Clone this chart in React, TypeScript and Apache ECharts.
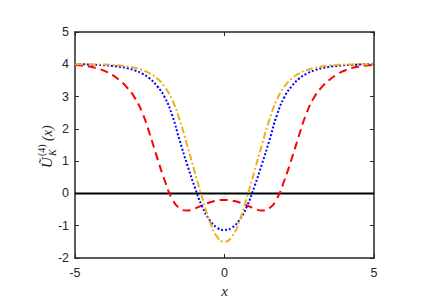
import React, { useEffect, useRef } from "react";
import * as echarts from "echarts";

const xs = [
  -5, -4.75, -4.5, -4.25, -4, -3.75, -3.5, -3.25, -3, -2.75, -2.5, -2.25, -2, -1.75, -1.5, -1.25, -1, -0.75, -0.5, -0.25,
  0, 0.25, 0.5, 0.75, 1, 1.25, 1.5, 1.75, 2, 2.25, 2.5, 2.75, 3, 3.25, 3.5, 3.75, 4, 4.25, 4.5, 4.75, 5,
];

const redValues = [
  3.98, 3.96, 3.93, 3.87, 3.79, 3.67, 3.5, 3.27, 2.96, 2.5, 1.84, 1.1, 0.4, -0.17, -0.46, -0.53, -0.47, -0.37, -0.28, -0.22,
  -0.2, -0.22, -0.28, -0.37, -0.47, -0.53, -0.46, -0.17, 0.4, 1.08, 1.82, 2.5, 2.98, 3.29, 3.51, 3.68, 3.8, 3.88, 3.93, 3.96, 3.98,
];

const blueValues = [
  4.0, 4.0, 3.99, 3.98, 3.97, 3.95, 3.92, 3.88, 3.81, 3.71, 3.56, 3.32, 2.98, 2.42, 1.64, 0.9, 0.21, -0.4, -0.82, -1.06,
  -1.13, -1.06, -0.82, -0.4, 0.21, 0.9, 1.64, 2.42, 2.98, 3.32, 3.56, 3.71, 3.81, 3.88, 3.92, 3.95, 3.97, 3.98, 3.99, 4.0, 4.0,
];

const orangeValues = [
  4.0, 4.0, 4.0, 3.99, 3.99, 3.98, 3.96, 3.93, 3.89, 3.82, 3.72, 3.56, 3.3, 2.9, 2.28, 1.5, 0.68, -0.12, -0.85, -1.34,
  -1.5, -1.34, -0.85, -0.12, 0.68, 1.5, 2.28, 2.9, 3.3, 3.56, 3.72, 3.82, 3.89, 3.93, 3.96, 3.98, 3.99, 3.99, 4.0, 4.0, 4.0,
];

const zeroLineX = [-5, 5];
const zeroLineY = [0, 0];

const xTicks = { min: -5, max: 5, interval: 5 };
const yTicks = { min: -2, max: 5, interval: 1 };

const AXIS_COLOR = "#262626";

function pairs(x: number[], y: number[]) {
  return x.map((v, i) => [v, y[i]]);
}

export default function App() {
  const ref = useRef<HTMLDivElement>(null);
  useEffect(() => {
    if (!ref.current) return;
    const chart = echarts.init(ref.current, undefined, { renderer: "svg" });
    const axisCommon = {
      type: "value" as const,
      splitLine: { show: false },
      axisLine: { show: true, onZero: false, lineStyle: { color: AXIS_COLOR, width: 1.5 } },
      axisTick: { show: true, inside: true, length: 4, lineStyle: { color: AXIS_COLOR, width: 1 } },
    };
    const labelStyle = { color: AXIS_COLOR, fontSize: 12.5, fontFamily: "Liberation Sans" };
    const txt = (text: string, x: number, y: number, font: string) => ({
      type: "text",
      x,
      y,
      style: { text, font, fill: AXIS_COLOR, verticalAlign: "bottom", textVerticalAlign: "bottom" },
    });
    chart.setOption({
      animation: false,
      backgroundColor: "#ffffff",
      grid: { left: 75, right: 62, top: 32, bottom: 50, containLabel: false },
      xAxis: [
        {
          ...axisCommon,
          ...xTicks,
          position: "bottom",
          axisLabel: { ...labelStyle, margin: 8 },
          name: "x",
          nameLocation: "middle",
          nameGap: 23,
          nameTextStyle: { fontFamily: "Liberation Serif", fontStyle: "italic", fontSize: 15, color: AXIS_COLOR },
        },
        { ...axisCommon, ...xTicks, position: "top", axisLabel: { show: false } },
      ],
      yAxis: [
        { ...axisCommon, ...yTicks, position: "left", axisLabel: { ...labelStyle, margin: 6 } },
        { ...axisCommon, ...yTicks, position: "right", axisLabel: { show: false } },
      ],
      graphic: [
        {
          type: "group",
          x: 54,
          y: 168,
          rotation: Math.PI / 2,
          children: [
            txt("Ũ", 0, 0, 'italic 15px "Liberation Serif"'),
            txt("(4)", 12, -8, '10px "Liberation Serif"'),
            txt("K", 12, 3, 'italic 10px "Liberation Serif"'),
            txt("(x)", 27, 0, 'italic 14px "Liberation Serif"'),
          ],
        },
      ],
      series: [
        {
          type: "line",
          data: pairs(zeroLineX, zeroLineY),
          showSymbol: false,
          lineStyle: { color: "#000000", width: 2 },
        },
        {
          type: "line",
          data: pairs(xs, redValues),
          showSymbol: false,
          smooth: true,
          lineStyle: { color: "#ff0000", width: 2, type: [8, 5] },
        },
        {
          type: "line",
          data: pairs(xs, blueValues),
          showSymbol: false,
          smooth: true,
          lineStyle: { color: "#0000ff", width: 2, type: [2, 2] },
        },
        {
          type: "line",
          data: pairs(xs, orangeValues),
          showSymbol: false,
          smooth: true,
          lineStyle: { color: "#EDB120", width: 2, type: [7, 2.5, 2, 2.5] },
        },
      ],
    });
    return () => chart.dispose();
  }, []);
  return <div ref={ref} style={{ position: "fixed", left: 0, top: 0, width: 436, height: 308 }} />;
}
